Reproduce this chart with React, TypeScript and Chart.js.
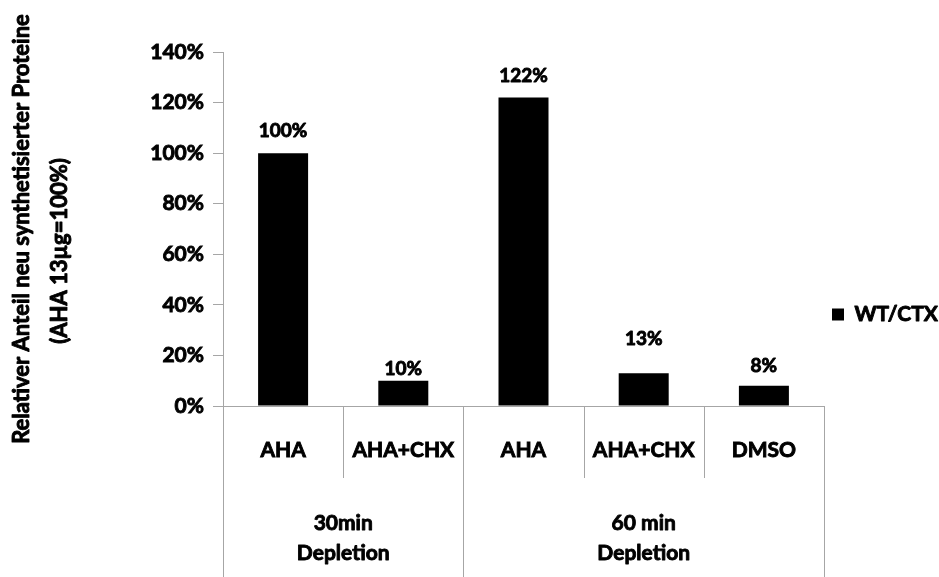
import React, { useEffect, useRef } from "react";
import { Chart, registerables } from "chart.js";

Chart.register(...registerables);

// Data
const categories = ["AHA", "AHA+CHX", "AHA", "AHA+CHX", "DMSO"];
const values = [100, 10, 122, 13, 8];
const seriesName = "WT/CTX";
const groupLines = [
  ["30min", "Depletion"],
  ["60 min", "Depletion"],
];
const groupSizes = [2, 3];
const yTicks = [0, 20, 40, 60, 80, 100, 120, 140];
const yTitle = ["Relativer Anteil neu synthetisierter Proteine", "(AHA 13µg=100%)"];

// Styling
const FONT = "Lato, 'Open Sans', sans-serif";
const WEIGHT = "bold";
const HEAVY = 0.9; // extra stroke that thickens the bold glyphs
const AXIS_GREY = "#a6a6a6";
const LEGEND_FONT_SIZE = 21;
const LEGEND_BOX = 12;
const labelLift = [22, 12, 22, 34, 20];
const titleX = [22, 60];
const titleShift = [0, 22];

function heavyText(ctx: CanvasRenderingContext2D, text: string, x: number, y: number) {
  ctx.strokeText(text, x, y);
  ctx.fillText(text, x, y);
}

function textStyle(ctx: CanvasRenderingContext2D, size: number) {
  ctx.font = `${WEIGHT} ${size}px ${FONT}`;
  ctx.fillStyle = "#000";
  ctx.strokeStyle = "#000";
  ctx.lineWidth = HEAVY;
  ctx.lineJoin = "round";
  ctx.textBaseline = "middle";
}

function categoryEdges(chart: any): number[] {
  const xs = chart.scales.x;
  const edges: number[] = [xs.left];
  for (let i = 1; i < categories.length; i++) {
    edges.push((xs.getPixelForValue(i - 1) + xs.getPixelForValue(i)) / 2);
  }
  edges.push(xs.right);
  return edges;
}

const valueLabels = {
  id: "valueLabels",
  afterDatasetsDraw(chart: any) {
    const ctx = chart.ctx;
    const meta = chart.getDatasetMeta(0);
    ctx.save();
    textStyle(ctx, 19);
    ctx.textAlign = "center";
    meta.data.forEach((bar: any, i: number) => {
      heavyText(ctx, `${values[i]}%`, bar.x, bar.y - labelLift[i]);
    });
    ctx.restore();
  },
};

const yAxisTitle = {
  id: "yAxisTitle",
  afterDraw(chart: any) {
    const ctx = chart.ctx;
    const ys = chart.scales.y;
    const cy = (ys.top + ys.bottom) / 2;
    ctx.save();
    textStyle(ctx, 22);
    ctx.textAlign = "center";
    yTitle.forEach((line, k) => {
      ctx.save();
      ctx.translate(titleX[k], cy + titleShift[k]);
      ctx.rotate(-Math.PI / 2);
      heavyText(ctx, line, 0, 0);
      ctx.restore();
    });
    ctx.restore();
  },
};

// thickens the legend text the same way as the other labels
const legendWeight = {
  id: "legendWeight",
  afterDraw(chart: any) {
    const legend = chart.legend;
    if (!legend || !legend.legendHitBoxes) return;
    const ctx = chart.ctx;
    ctx.save();
    textStyle(ctx, LEGEND_FONT_SIZE);
    ctx.textAlign = "left";
    legend.legendItems.forEach((item: any, i: number) => {
      const hb = legend.legendHitBoxes[i];
      const x = hb.left + LEGEND_BOX + LEGEND_FONT_SIZE / 2;
      const y = hb.top + hb.height / 2;
      ctx.strokeText(item.text, x, y);
    });
    ctx.restore();
  },
};

const groupAxis = {
  id: "groupAxis",
  afterDraw(chart: any) {
    const ctx = chart.ctx;
    const area = chart.chartArea;
    const edges = categoryEdges(chart);
    const bottom = chart.height;
    const innerEnd = area.bottom + 72;

    // boundaries that close a group run down to the canvas edge
    const groupBounds = new Set<number>([0]);
    let acc = 0;
    groupSizes.forEach((n) => {
      acc += n;
      groupBounds.add(acc);
    });

    ctx.save();
    ctx.strokeStyle = AXIS_GREY;
    ctx.lineWidth = 1;
    edges.forEach((ex, i) => {
      const x = Math.round(ex) + 0.5;
      ctx.beginPath();
      ctx.moveTo(x, area.bottom);
      ctx.lineTo(x, groupBounds.has(i) ? bottom : innerEnd);
      ctx.stroke();
    });

    textStyle(ctx, 21);
    ctx.textAlign = "center";
    let start = 0;
    groupSizes.forEach((n, g) => {
      const cx = (edges[start] + edges[start + n]) / 2;
      groupLines[g].forEach((line, k) => {
        heavyText(ctx, line, cx, area.bottom + 117 + k * 30);
      });
      start += n;
    });
    ctx.restore();
  },
};

export default function App() {
  const canvasRef = useRef<HTMLCanvasElement | null>(null);

  useEffect(() => {
    if (!canvasRef.current) return;
    const chart = new Chart(canvasRef.current, {
      type: "bar",
      data: {
        labels: categories,
        datasets: [
          {
            label: seriesName,
            data: values,
            backgroundColor: "#000000",
            borderWidth: 0,
            categoryPercentage: 1,
            barPercentage: 0.416,
          },
        ],
      },
      options: {
        responsive: false,
        animation: false,
        layout: { padding: { top: 52, right: 0, bottom: 0, left: 0 } },
        plugins: {
          tooltip: { enabled: false },
          legend: {
            position: "right",
            maxWidth: 115,
            labels: {
              boxWidth: LEGEND_BOX,
              boxHeight: LEGEND_BOX,
              padding: 8,
              color: "#000",
              font: { family: FONT, size: LEGEND_FONT_SIZE, weight: WEIGHT },
            },
          },
        },
        scales: {
          x: {
            afterFit: (s: any) => {
              s.height = 171;
            },
            grid: { display: false },
            border: { display: true, color: AXIS_GREY, width: 1 },
            ticks: {
              color: "#000",
              textStrokeColor: "#000",
              textStrokeWidth: HEAVY,
              padding: 24,
              maxRotation: 0,
              autoSkip: false,
              font: { family: FONT, size: 21, weight: WEIGHT },
            },
          },
          y: {
            min: 0,
            max: 140,
            afterFit: (s: any) => {
              s.width = 223;
            },
            afterBuildTicks: (s: any) => {
              s.ticks = yTicks.map((v) => ({ value: v }));
            },
            grid: {
              display: true,
              drawOnChartArea: false,
              drawTicks: true,
              tickLength: 10,
              color: AXIS_GREY,
            },
            border: { display: true, color: AXIS_GREY, width: 1 },
            ticks: {
              color: "#000",
              textStrokeColor: "#000",
              textStrokeWidth: HEAVY,
              padding: 9,
              font: { family: FONT, size: 21, weight: WEIGHT },
              callback: (v: any) => `${v}%`,
            },
            title: { display: false },
          },
        },
      },
      plugins: [valueLabels, groupAxis, yAxisTitle, legendWeight],
    });
    return () => chart.destroy();
  }, []);

  return (
    <div style={{ position: "absolute", left: 0, top: 0, width: 939, height: 577, background: "#fff" }}>
      <canvas ref={canvasRef} width={939} height={577} style={{ display: "block" }} />
    </div>
  );
}
